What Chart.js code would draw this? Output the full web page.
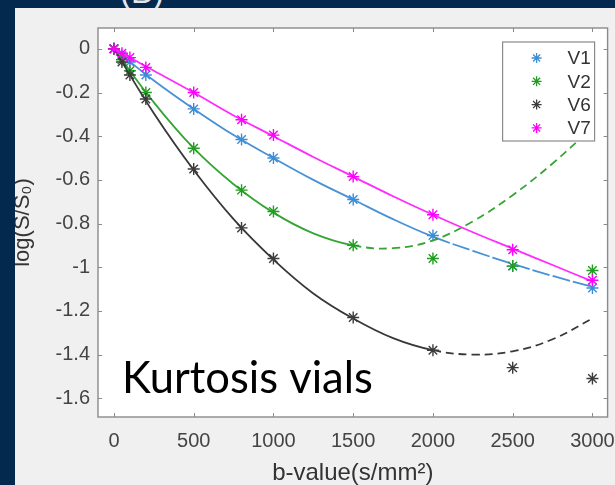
<!DOCTYPE html>
<html><head><meta charset="utf-8">
<script src="https://cdn.jsdelivr.net/npm/chart.js@4.4.1/dist/chart.umd.min.js"></script>
<style>
html,body{margin:0;padding:0;width:615px;height:485px;overflow:hidden;background:#04294f;}
#tag{position:absolute;left:120px;top:-25px;font:33px "Liberation Sans",Arial,sans-serif;line-height:1;color:#e3e7ec;}
#panel{position:absolute;left:15px;top:8px;width:600px;height:477px;background:#f0f0f0;}
canvas{display:block;}
</style></head><body>
<div id="tag">(B)</div>
<div id="panel"><canvas id="c" width="600" height="477"></canvas></div>
<script>
// ---- data ----
const bValues = [0, 50, 100, 200, 500, 800, 1000, 1500, 2000, 2500, 3000];
const v1 = [0, -0.03, -0.06, -0.12, -0.275, -0.415, -0.50, -0.69, -0.855, -0.995, -1.095];
const v2 = [0, -0.05, -0.10, -0.20, -0.455, -0.647, -0.745, -0.90, -0.96, -0.995, -1.015];
const v6 = [0, -0.06, -0.12, -0.23, -0.55, -0.82, -0.96, -1.23, -1.38, -1.46, -1.51];
const v7 = [0, -0.02, -0.04, -0.085, -0.20, -0.325, -0.395, -0.585, -0.76, -0.92, -1.06];

const fitB = [0, 250, 500, 750, 1000, 1250, 1500, 1750, 2000, 2250, 2500, 2750, 3000];
const fitV1 = [0, -0.145, -0.275, -0.395, -0.50, -0.60, -0.69, -0.78, -0.86, -0.925, -0.985, -1.04, -1.09];
const fitV2 = [0, -0.245, -0.455, -0.62, -0.75, -0.845, -0.90, -0.913, -0.877, -0.79, -0.67, -0.525, -0.36];
const fitV6 = [0, -0.295, -0.555, -0.78, -0.965, -1.12, -1.235, -1.325, -1.38, -1.40, -1.385, -1.33, -1.235];
const fitV7 = [0, -0.10, -0.20, -0.305, -0.40, -0.495, -0.585, -0.675, -0.76, -0.84, -0.915, -0.99, -1.065];

const seriesNames = ['V1', 'V2', 'V6', 'V7'];
const xTicks = [0, 500, 1000, 1500, 2000, 2500, 3000];
const yTicks = [0, -0.2, -0.4, -0.6, -0.8, -1, -1.2, -1.4, -1.6];

// ---- styling ----
const markerColors = ['#3a8ed6', '#1f9e1f', '#3c3c3c', '#ff00ff'];
const lineColors = ['#4792d6', '#35a535', '#383838', '#ff2bff'];
const dashFrom = [2000, 1500, 2000, null];
const dashPattern = [[18, 3], [8, 5], [8, 5], null];
const AXIS = '#8a8a8a';
const FONT = '"Liberation Sans", Arial, sans-serif';
Chart.defaults.font.family = FONT;

const pts = (xs, ys) => xs.map((x, i) => ({x: x, y: ys[i]}));
const markerData = [v1, v2, v6, v7];
const fitData = [fitV1, fitV2, fitV6, fitV7];

const datasets = [];
seriesNames.forEach((name, i) => {
  const ord = (3 - i) * 2;
  datasets.push({
    type: 'scatter', label: name, data: pts(bValues, markerData[i]),
    pointStyle: 'star', pointRadius: 6, pointBorderWidth: 1.4,
    borderColor: markerColors[i], backgroundColor: markerColors[i],
    order: ord, showLine: false
  });
  const df = dashFrom[i], dp = dashPattern[i];
  datasets.push({
    type: 'line', label: name + ' fit', data: pts(fitB, fitData[i]),
    borderColor: lineColors[i], borderWidth: 1.8, pointRadius: 0, tension: 0.4,
    fill: false, order: ord + 1,
    segment: { borderDash: ctx => (df !== null && ctx.p0.parsed.x >= df) ? dp : undefined }
  });
});

function drawStar(ctx, x, y, r) {
  ctx.beginPath();
  ctx.moveTo(x - r, y); ctx.lineTo(x + r, y);
  ctx.moveTo(x, y - r); ctx.lineTo(x, y + r);
  const d = r * Math.SQRT1_2;
  ctx.moveTo(x - d, y - d); ctx.lineTo(x + d, y + d);
  ctx.moveTo(x - d, y + d); ctx.lineTo(x + d, y - d);
  ctx.stroke();
}

const areaBg = {
  id: 'areaBg',
  beforeDraw(chart) {
    const a = chart.chartArea, ctx = chart.ctx;
    ctx.save(); ctx.fillStyle = '#ffffff';
    ctx.fillRect(a.left, a.top, a.right - a.left, a.bottom - a.top);
    ctx.restore();
  }
};

const frame = {
  id: 'frame',
  afterDraw(chart) {
    const a = chart.chartArea, ctx = chart.ctx;
    const xs = chart.scales.x, ys = chart.scales.y;
    ctx.save();
    // Kurtosis annotation
    ctx.fillStyle = '#000';
    ctx.font = '43.5px Lato, "Open Sans", sans-serif';
    ctx.textBaseline = 'alphabetic'; ctx.textAlign = 'left';
    ctx.fillText('Kurtosis vials', 107, 385);
    // axes box
    ctx.strokeStyle = AXIS; ctx.lineWidth = 1.4;
    ctx.strokeRect(a.left, a.top, a.right - a.left, a.bottom - a.top);
    ctx.lineWidth = 1;
    ctx.beginPath();
    xTicks.forEach(v => {
      const p = Math.round(xs.getPixelForValue(v)) + 0.5;
      ctx.moveTo(p, a.bottom); ctx.lineTo(p, a.bottom - 4);
      ctx.moveTo(p, a.top); ctx.lineTo(p, a.top + 4);
    });
    yTicks.forEach(v => {
      const p = Math.round(ys.getPixelForValue(v)) + 0.5;
      ctx.moveTo(a.left, p); ctx.lineTo(a.left + 4, p);
      ctx.moveTo(a.right, p); ctx.lineTo(a.right - 4, p);
    });
    ctx.stroke();
    // legend box
    const x0 = a.right - 105, y0 = a.top + 14, w = 92, h = 99;
    ctx.fillStyle = '#fff'; ctx.fillRect(x0, y0, w, h);
    ctx.strokeStyle = AXIS; ctx.lineWidth = 1.2; ctx.strokeRect(x0, y0, w, h);
    ctx.font = '19px ' + FONT; ctx.textBaseline = 'middle';
    seriesNames.forEach((name, i) => {
      const y = y0 + 16 + i * 23.3;
      ctx.strokeStyle = markerColors[i]; ctx.lineWidth = 1.3;
      drawStar(ctx, x0 + 34, y, 5);
      ctx.fillStyle = '#333'; ctx.fillText(name, x0 + 65, y + 1);
    });
    ctx.restore();
  }
};

new Chart(document.getElementById('c'), {
  data: { datasets: datasets },
  options: {
    responsive: false, animation: false,
    layout: { padding: { left: 0, top: 17, right: 3, bottom: 0 } },
    plugins: { legend: { display: false }, tooltip: { enabled: false } },
    scales: {
      x: {
        type: 'linear', min: -100, max: 3095,
        afterBuildTicks: s => { s.ticks = xTicks.map(v => ({value: v})); },
        afterFit: s => { s.height = 68; s.paddingLeft = 0; s.paddingRight = 0; },
        grid: { display: false, drawTicks: false }, border: { display: false },
        ticks: { font: { size: 20 }, color: '#444', padding: 12, maxRotation: 0, autoSkip: false,
                 callback: v => String(v) },
        title: { display: true, text: 'b-value(s/mm²)', font: { size: 24 }, color: '#333',
                 padding: { top: 0, bottom: -3 } }
      },
      y: {
        type: 'linear', min: -1.686, max: 0.0955,
        afterBuildTicks: s => { s.ticks = yTicks.map(v => ({value: v})); },
        afterFit: s => { s.width = 83; },
        grid: { display: false, drawTicks: false }, border: { display: false },
        ticks: { font: { size: 20 }, color: '#444', padding: 8, autoSkip: false,
                 callback: v => String(Math.round(v * 10) / 10) },
        title: { display: true, text: 'log(S/S₀)', font: { size: 22 }, color: '#333',
                 padding: { top: -5, bottom: 0 } }
      }
    }
  },
  plugins: [areaBg, frame]
});
</script>
</body></html>
